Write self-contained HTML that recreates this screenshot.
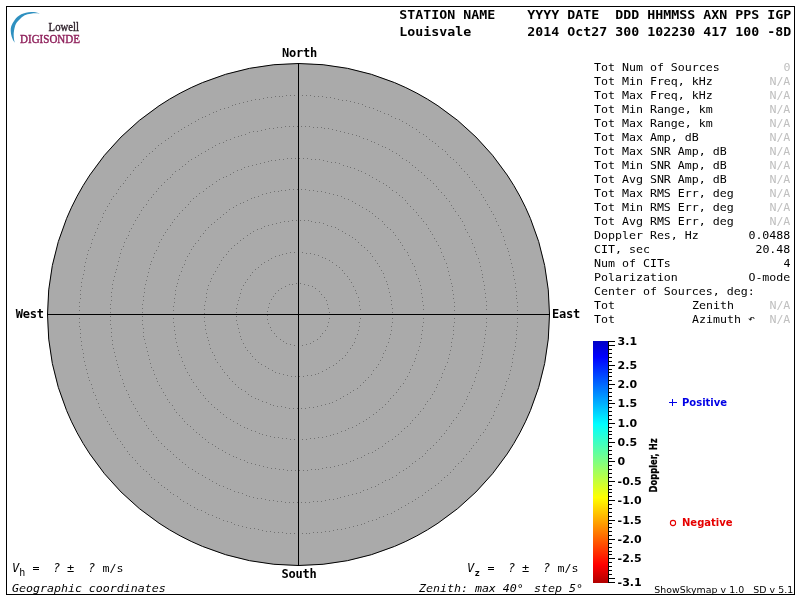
<!DOCTYPE html>
<html lang="en"><head><meta charset="utf-8"><title>ShowSkymap - Louisvale</title>
<style>
html,body{margin:0;padding:0;background:#fff;width:800px;height:600px;overflow:hidden}
svg{display:block;position:absolute;left:0;top:0}
text{white-space:pre}
.m12{font-family:"DejaVu Sans Mono", "Liberation Mono", monospace;font-size:12px;letter-spacing:-0.2246px}
.m11{font-family:"DejaVu Sans Mono", "Liberation Mono", monospace;font-size:11px;letter-spacing:0}
.m9{font-family:"DejaVu Sans Mono", "Liberation Mono", monospace;font-size:9px;font-weight:bold;letter-spacing:0}
.m10{font-family:"DejaVu Sans Mono", "Liberation Mono", monospace;font-size:10px;letter-spacing:0}
.b12{font-family:"DejaVu Sans Mono", "Liberation Mono", monospace;font-size:12px;font-weight:bold;letter-spacing:-0.2246px}
.b13{font-family:"DejaVu Sans Mono", "Liberation Mono", monospace;font-size:13px;font-weight:bold;letter-spacing:0}
.i{font-style:oblique}
.g{fill:#c0c0c0}
.sb{font-family:"DejaVu Sans", "Liberation Sans", sans-serif;font-weight:bold;font-size:11px}
.ss{font-family:"DejaVu Sans", "Liberation Sans", sans-serif;font-size:9.4px;letter-spacing:0.06px}
.sb10{font-family:"DejaVu Sans", "Liberation Sans", sans-serif;font-weight:bold;font-size:10px}
.lg{font-family:"Liberation Serif", "DejaVu Serif", serif}
</style></head><body>
<svg width="800" height="600" viewBox="0 0 800 600">
<defs><linearGradient id="cb" x1="0" y1="0" x2="0" y2="1">
<stop offset="0.000" stop-color="#0000c4"/>
<stop offset="0.066" stop-color="#0000ff"/>
<stop offset="0.344" stop-color="#00ffff"/>
<stop offset="0.500" stop-color="#80ff80"/>
<stop offset="0.647" stop-color="#ffff00"/>
<stop offset="0.925" stop-color="#ff0000"/>
<stop offset="1.000" stop-color="#b00000"/>
</linearGradient></defs>
<rect x="0" y="0" width="800" height="600" fill="#fff"/>
<circle cx="298.5" cy="314.5" r="251" fill="#aaaaaa" stroke="#000" stroke-width="1"/>
<path fill="#727272" shape-rendering="crispEdges" d="M329 314h1v1h-1zM329 318h1v1h-1zM328 322h1v1h-1zM327 326h1v1h-1zM325 330h1v1h-1zM322 333h1v1h-1zM320 336h1v1h-1zM317 339h1v1h-1zM313 341h1v1h-1zM310 343h1v1h-1zM306 344h1v1h-1zM302 345h1v1h-1zM298 345h1v1h-1zM294 345h1v1h-1zM290 344h1v1h-1zM286 343h1v1h-1zM283 341h1v1h-1zM280 339h1v1h-1zM276 336h1v1h-1zM274 333h1v1h-1zM271 330h1v1h-1zM270 327h1v1h-1zM268 323h1v1h-1zM267 319h1v1h-1zM267 315h1v1h-1zM267 311h1v1h-1zM268 307h1v1h-1zM269 303h1v1h-1zM271 299h1v1h-1zM273 296h1v1h-1zM275 293h1v1h-1zM278 290h1v1h-1zM281 288h1v1h-1zM285 286h1v1h-1zM289 284h1v1h-1zM292 284h1v1h-1zM296 283h1v1h-1zM300 283h1v1h-1zM304 284h1v1h-1zM308 285h1v1h-1zM312 286h1v1h-1zM315 288h1v1h-1zM319 291h1v1h-1zM321 294h1v1h-1zM324 297h1v1h-1zM326 300h1v1h-1zM327 304h1v1h-1zM328 308h1v1h-1zM329 312h1v1h-1zM360 314h1v1h-1zM360 318h1v1h-1zM359 322h1v1h-1zM359 326h1v1h-1zM358 330h1v1h-1zM357 334h1v1h-1zM355 338h1v1h-1zM354 342h1v1h-1zM352 345h1v1h-1zM350 348h1v1h-1zM347 352h1v1h-1zM345 355h1v1h-1zM342 358h1v1h-1zM339 360h1v1h-1zM336 363h1v1h-1zM333 365h1v1h-1zM329 367h1v1h-1zM326 369h1v1h-1zM322 371h1v1h-1zM318 373h1v1h-1zM315 374h1v1h-1zM311 375h1v1h-1zM307 375h1v1h-1zM303 376h1v1h-1zM299 376h1v1h-1zM295 376h1v1h-1zM291 376h1v1h-1zM287 375h1v1h-1zM283 374h1v1h-1zM279 373h1v1h-1zM275 372h1v1h-1zM272 370h1v1h-1zM268 368h1v1h-1zM265 366h1v1h-1zM261 364h1v1h-1zM258 362h1v1h-1zM255 359h1v1h-1zM252 356h1v1h-1zM250 353h1v1h-1zM247 350h1v1h-1zM245 347h1v1h-1zM243 343h1v1h-1zM241 339h1v1h-1zM240 336h1v1h-1zM239 332h1v1h-1zM238 328h1v1h-1zM237 324h1v1h-1zM236 320h1v1h-1zM236 316h1v1h-1zM236 312h1v1h-1zM236 308h1v1h-1zM237 304h1v1h-1zM238 300h1v1h-1zM239 297h1v1h-1zM240 293h1v1h-1zM241 289h1v1h-1zM243 285h1v1h-1zM245 282h1v1h-1zM247 279h1v1h-1zM250 275h1v1h-1zM252 272h1v1h-1zM255 269h1v1h-1zM258 267h1v1h-1zM261 264h1v1h-1zM264 262h1v1h-1zM268 260h1v1h-1zM271 258h1v1h-1zM275 256h1v1h-1zM279 255h1v1h-1zM282 254h1v1h-1zM286 253h1v1h-1zM290 252h1v1h-1zM294 252h1v1h-1zM298 252h1v1h-1zM302 252h1v1h-1zM306 253h1v1h-1zM310 253h1v1h-1zM314 254h1v1h-1zM318 255h1v1h-1zM322 257h1v1h-1zM325 258h1v1h-1zM329 260h1v1h-1zM332 262h1v1h-1zM336 265h1v1h-1zM339 267h1v1h-1zM342 270h1v1h-1zM344 273h1v1h-1zM347 276h1v1h-1zM349 279h1v1h-1zM351 282h1v1h-1zM353 286h1v1h-1zM355 290h1v1h-1zM356 293h1v1h-1zM358 297h1v1h-1zM359 301h1v1h-1zM359 305h1v1h-1zM360 309h1v1h-1zM392 314h1v1h-1zM392 318h1v1h-1zM392 322h1v1h-1zM391 326h1v1h-1zM391 330h1v1h-1zM390 334h1v1h-1zM389 338h1v1h-1zM388 342h1v1h-1zM386 346h1v1h-1zM385 350h1v1h-1zM383 353h1v1h-1zM382 357h1v1h-1zM380 360h1v1h-1zM378 364h1v1h-1zM376 367h1v1h-1zM373 370h1v1h-1zM371 374h1v1h-1zM368 377h1v1h-1zM365 380h1v1h-1zM363 382h1v1h-1zM360 385h1v1h-1zM357 388h1v1h-1zM353 390h1v1h-1zM350 392h1v1h-1zM347 394h1v1h-1zM343 396h1v1h-1zM340 398h1v1h-1zM336 400h1v1h-1zM332 402h1v1h-1zM329 403h1v1h-1zM325 404h1v1h-1zM321 405h1v1h-1zM317 406h1v1h-1zM313 407h1v1h-1zM309 407h1v1h-1zM305 408h1v1h-1zM301 408h1v1h-1zM297 408h1v1h-1zM293 408h1v1h-1zM289 408h1v1h-1zM285 407h1v1h-1zM281 406h1v1h-1zM277 406h1v1h-1zM273 405h1v1h-1zM270 404h1v1h-1zM266 402h1v1h-1zM262 401h1v1h-1zM258 399h1v1h-1zM255 398h1v1h-1zM251 396h1v1h-1zM248 394h1v1h-1zM245 391h1v1h-1zM241 389h1v1h-1zM238 387h1v1h-1zM235 384h1v1h-1zM232 381h1v1h-1zM229 378h1v1h-1zM227 375h1v1h-1zM224 372h1v1h-1zM222 369h1v1h-1zM220 366h1v1h-1zM217 362h1v1h-1zM215 359h1v1h-1zM214 355h1v1h-1zM212 352h1v1h-1zM210 348h1v1h-1zM209 344h1v1h-1zM208 340h1v1h-1zM207 337h1v1h-1zM206 333h1v1h-1zM205 329h1v1h-1zM205 325h1v1h-1zM204 321h1v1h-1zM204 317h1v1h-1zM204 313h1v1h-1zM204 309h1v1h-1zM204 305h1v1h-1zM205 301h1v1h-1zM206 297h1v1h-1zM206 293h1v1h-1zM207 289h1v1h-1zM208 285h1v1h-1zM210 281h1v1h-1zM211 278h1v1h-1zM213 274h1v1h-1zM215 271h1v1h-1zM217 267h1v1h-1zM219 264h1v1h-1zM221 260h1v1h-1zM223 257h1v1h-1zM226 254h1v1h-1zM228 251h1v1h-1zM231 248h1v1h-1zM234 245h1v1h-1zM237 243h1v1h-1zM240 240h1v1h-1zM243 238h1v1h-1zM247 235h1v1h-1zM250 233h1v1h-1zM253 231h1v1h-1zM257 229h1v1h-1zM261 228h1v1h-1zM264 226h1v1h-1zM268 225h1v1h-1zM272 224h1v1h-1zM276 223h1v1h-1zM280 222h1v1h-1zM284 221h1v1h-1zM288 221h1v1h-1zM292 220h1v1h-1zM296 220h1v1h-1zM300 220h1v1h-1zM304 220h1v1h-1zM308 220h1v1h-1zM311 221h1v1h-1zM315 222h1v1h-1zM319 222h1v1h-1zM323 223h1v1h-1zM327 225h1v1h-1zM331 226h1v1h-1zM335 227h1v1h-1zM338 229h1v1h-1zM342 231h1v1h-1zM345 233h1v1h-1zM349 235h1v1h-1zM352 237h1v1h-1zM355 239h1v1h-1zM358 242h1v1h-1zM361 245h1v1h-1zM364 247h1v1h-1zM367 250h1v1h-1zM370 253h1v1h-1zM372 256h1v1h-1zM375 260h1v1h-1zM377 263h1v1h-1zM379 266h1v1h-1zM381 270h1v1h-1zM383 273h1v1h-1zM384 277h1v1h-1zM386 281h1v1h-1zM387 284h1v1h-1zM388 288h1v1h-1zM389 292h1v1h-1zM390 296h1v1h-1zM391 300h1v1h-1zM391 304h1v1h-1zM392 308h1v1h-1zM392 312h1v1h-1zM423 314h1v1h-1zM423 318h1v1h-1zM423 322h1v1h-1zM422 326h1v1h-1zM422 330h1v1h-1zM421 334h1v1h-1zM421 338h1v1h-1zM420 342h1v1h-1zM419 346h1v1h-1zM418 350h1v1h-1zM416 354h1v1h-1zM415 358h1v1h-1zM414 361h1v1h-1zM412 365h1v1h-1zM410 369h1v1h-1zM409 372h1v1h-1zM407 376h1v1h-1zM405 379h1v1h-1zM403 383h1v1h-1zM400 386h1v1h-1zM398 389h1v1h-1zM396 392h1v1h-1zM393 395h1v1h-1zM390 398h1v1h-1zM388 401h1v1h-1zM385 404h1v1h-1zM382 407h1v1h-1zM379 409h1v1h-1zM376 412h1v1h-1zM373 414h1v1h-1zM369 417h1v1h-1zM366 419h1v1h-1zM363 421h1v1h-1zM359 423h1v1h-1zM356 425h1v1h-1zM352 427h1v1h-1zM348 428h1v1h-1zM345 430h1v1h-1zM341 431h1v1h-1zM337 433h1v1h-1zM333 434h1v1h-1zM330 435h1v1h-1zM326 436h1v1h-1zM322 437h1v1h-1zM318 437h1v1h-1zM314 438h1v1h-1zM310 438h1v1h-1zM306 439h1v1h-1zM302 439h1v1h-1zM298 439h1v1h-1zM294 439h1v1h-1zM290 439h1v1h-1zM286 438h1v1h-1zM282 438h1v1h-1zM278 437h1v1h-1zM274 437h1v1h-1zM270 436h1v1h-1zM266 435h1v1h-1zM262 434h1v1h-1zM259 433h1v1h-1zM255 431h1v1h-1zM251 430h1v1h-1zM247 428h1v1h-1zM244 427h1v1h-1zM240 425h1v1h-1zM237 423h1v1h-1zM233 421h1v1h-1zM230 419h1v1h-1zM226 417h1v1h-1zM223 414h1v1h-1zM220 412h1v1h-1zM217 409h1v1h-1zM214 407h1v1h-1zM211 404h1v1h-1zM208 401h1v1h-1zM205 398h1v1h-1zM203 395h1v1h-1zM200 392h1v1h-1zM198 389h1v1h-1zM196 386h1v1h-1zM193 382h1v1h-1zM191 379h1v1h-1zM189 375h1v1h-1zM187 372h1v1h-1zM185 368h1v1h-1zM184 365h1v1h-1zM182 361h1v1h-1zM181 357h1v1h-1zM179 354h1v1h-1zM178 350h1v1h-1zM177 346h1v1h-1zM176 342h1v1h-1zM175 338h1v1h-1zM175 334h1v1h-1zM174 330h1v1h-1zM174 326h1v1h-1zM173 322h1v1h-1zM173 318h1v1h-1zM173 314h1v1h-1zM173 310h1v1h-1zM173 306h1v1h-1zM174 302h1v1h-1zM174 298h1v1h-1zM175 294h1v1h-1zM175 290h1v1h-1zM176 286h1v1h-1zM177 283h1v1h-1zM178 279h1v1h-1zM179 275h1v1h-1zM181 271h1v1h-1zM182 267h1v1h-1zM184 264h1v1h-1zM185 260h1v1h-1zM187 256h1v1h-1zM189 253h1v1h-1zM191 249h1v1h-1zM193 246h1v1h-1zM195 243h1v1h-1zM198 240h1v1h-1zM200 236h1v1h-1zM203 233h1v1h-1zM205 230h1v1h-1zM208 227h1v1h-1zM211 224h1v1h-1zM214 222h1v1h-1zM217 219h1v1h-1zM220 217h1v1h-1zM223 214h1v1h-1zM226 212h1v1h-1zM229 209h1v1h-1zM233 207h1v1h-1zM236 205h1v1h-1zM240 203h1v1h-1zM243 202h1v1h-1zM247 200h1v1h-1zM251 198h1v1h-1zM254 197h1v1h-1zM258 196h1v1h-1zM262 194h1v1h-1zM266 193h1v1h-1zM270 192h1v1h-1zM274 191h1v1h-1zM278 191h1v1h-1zM281 190h1v1h-1zM285 190h1v1h-1zM289 189h1v1h-1zM293 189h1v1h-1zM297 189h1v1h-1zM301 189h1v1h-1zM305 189h1v1h-1zM309 190h1v1h-1zM313 190h1v1h-1zM317 191h1v1h-1zM321 191h1v1h-1zM325 192h1v1h-1zM329 193h1v1h-1zM333 194h1v1h-1zM337 195h1v1h-1zM341 196h1v1h-1zM344 198h1v1h-1zM348 199h1v1h-1zM352 201h1v1h-1zM355 203h1v1h-1zM359 205h1v1h-1zM362 207h1v1h-1zM366 209h1v1h-1zM369 211h1v1h-1zM372 213h1v1h-1zM375 216h1v1h-1zM378 218h1v1h-1zM382 221h1v1h-1zM384 224h1v1h-1zM387 227h1v1h-1zM390 229h1v1h-1zM393 232h1v1h-1zM395 235h1v1h-1zM398 239h1v1h-1zM400 242h1v1h-1zM402 245h1v1h-1zM404 249h1v1h-1zM407 252h1v1h-1zM408 255h1v1h-1zM410 259h1v1h-1zM412 263h1v1h-1zM414 266h1v1h-1zM415 270h1v1h-1zM416 274h1v1h-1zM418 278h1v1h-1zM419 281h1v1h-1zM420 285h1v1h-1zM421 289h1v1h-1zM421 293h1v1h-1zM422 297h1v1h-1zM422 301h1v1h-1zM423 305h1v1h-1zM423 309h1v1h-1zM454 314h1v1h-1zM454 318h1v1h-1zM454 322h1v1h-1zM453 326h1v1h-1zM453 330h1v1h-1zM453 334h1v1h-1zM452 338h1v1h-1zM451 342h1v1h-1zM451 346h1v1h-1zM450 350h1v1h-1zM449 354h1v1h-1zM448 358h1v1h-1zM447 362h1v1h-1zM445 366h1v1h-1zM444 369h1v1h-1zM442 373h1v1h-1zM441 377h1v1h-1zM439 380h1v1h-1zM437 384h1v1h-1zM436 387h1v1h-1zM434 391h1v1h-1zM432 394h1v1h-1zM430 398h1v1h-1zM427 401h1v1h-1zM425 404h1v1h-1zM423 408h1v1h-1zM420 411h1v1h-1zM418 414h1v1h-1zM415 417h1v1h-1zM412 420h1v1h-1zM410 423h1v1h-1zM407 426h1v1h-1zM404 428h1v1h-1zM401 431h1v1h-1zM398 434h1v1h-1zM395 436h1v1h-1zM392 439h1v1h-1zM388 441h1v1h-1zM385 443h1v1h-1zM382 446h1v1h-1zM378 448h1v1h-1zM375 450h1v1h-1zM372 452h1v1h-1zM368 453h1v1h-1zM364 455h1v1h-1zM361 457h1v1h-1zM357 458h1v1h-1zM353 460h1v1h-1zM350 461h1v1h-1zM346 463h1v1h-1zM342 464h1v1h-1zM338 465h1v1h-1zM334 466h1v1h-1zM330 467h1v1h-1zM326 467h1v1h-1zM322 468h1v1h-1zM318 469h1v1h-1zM315 469h1v1h-1zM311 469h1v1h-1zM307 470h1v1h-1zM303 470h1v1h-1zM299 470h1v1h-1zM295 470h1v1h-1zM291 470h1v1h-1zM287 470h1v1h-1zM283 469h1v1h-1zM279 469h1v1h-1zM275 468h1v1h-1zM271 468h1v1h-1zM267 467h1v1h-1zM263 466h1v1h-1zM259 465h1v1h-1zM255 464h1v1h-1zM251 463h1v1h-1zM247 462h1v1h-1zM244 460h1v1h-1zM240 459h1v1h-1zM236 457h1v1h-1zM233 456h1v1h-1zM229 454h1v1h-1zM225 452h1v1h-1zM222 450h1v1h-1zM218 448h1v1h-1zM215 446h1v1h-1zM212 444h1v1h-1zM208 442h1v1h-1zM205 439h1v1h-1zM202 437h1v1h-1zM199 434h1v1h-1zM196 432h1v1h-1zM193 429h1v1h-1zM190 426h1v1h-1zM187 424h1v1h-1zM184 421h1v1h-1zM182 418h1v1h-1zM179 415h1v1h-1zM176 412h1v1h-1zM174 409h1v1h-1zM172 405h1v1h-1zM169 402h1v1h-1zM167 399h1v1h-1zM165 395h1v1h-1zM163 392h1v1h-1zM161 388h1v1h-1zM159 385h1v1h-1zM157 381h1v1h-1zM156 378h1v1h-1zM154 374h1v1h-1zM153 370h1v1h-1zM151 367h1v1h-1zM150 363h1v1h-1zM149 359h1v1h-1zM148 355h1v1h-1zM147 351h1v1h-1zM146 347h1v1h-1zM145 343h1v1h-1zM144 339h1v1h-1zM143 336h1v1h-1zM143 332h1v1h-1zM143 328h1v1h-1zM142 324h1v1h-1zM142 320h1v1h-1zM142 316h1v1h-1zM142 312h1v1h-1zM142 308h1v1h-1zM142 304h1v1h-1zM143 300h1v1h-1zM143 296h1v1h-1zM144 292h1v1h-1zM144 288h1v1h-1zM145 284h1v1h-1zM146 280h1v1h-1zM147 276h1v1h-1zM148 272h1v1h-1zM149 268h1v1h-1zM150 264h1v1h-1zM151 261h1v1h-1zM153 257h1v1h-1zM154 253h1v1h-1zM156 250h1v1h-1zM158 246h1v1h-1zM159 242h1v1h-1zM161 239h1v1h-1zM163 235h1v1h-1zM165 232h1v1h-1zM167 229h1v1h-1zM170 225h1v1h-1zM172 222h1v1h-1zM174 219h1v1h-1zM177 216h1v1h-1zM179 213h1v1h-1zM182 210h1v1h-1zM185 207h1v1h-1zM188 204h1v1h-1zM190 201h1v1h-1zM193 198h1v1h-1zM196 196h1v1h-1zM199 193h1v1h-1zM203 191h1v1h-1zM206 188h1v1h-1zM209 186h1v1h-1zM212 184h1v1h-1zM216 181h1v1h-1zM219 179h1v1h-1zM223 177h1v1h-1zM226 176h1v1h-1zM230 174h1v1h-1zM233 172h1v1h-1zM237 170h1v1h-1zM241 169h1v1h-1zM244 167h1v1h-1zM248 166h1v1h-1zM252 165h1v1h-1zM256 164h1v1h-1zM260 163h1v1h-1zM264 162h1v1h-1zM268 161h1v1h-1zM271 160h1v1h-1zM275 160h1v1h-1zM279 159h1v1h-1zM283 159h1v1h-1zM287 158h1v1h-1zM291 158h1v1h-1zM295 158h1v1h-1zM299 158h1v1h-1zM303 158h1v1h-1zM307 158h1v1h-1zM311 159h1v1h-1zM315 159h1v1h-1zM319 159h1v1h-1zM323 160h1v1h-1zM327 161h1v1h-1zM331 162h1v1h-1zM335 162h1v1h-1zM339 163h1v1h-1zM343 165h1v1h-1zM347 166h1v1h-1zM350 167h1v1h-1zM354 168h1v1h-1zM358 170h1v1h-1zM361 171h1v1h-1zM365 173h1v1h-1zM369 175h1v1h-1zM372 177h1v1h-1zM376 179h1v1h-1zM379 181h1v1h-1zM383 183h1v1h-1zM386 185h1v1h-1zM389 187h1v1h-1zM392 190h1v1h-1zM396 192h1v1h-1zM399 195h1v1h-1zM402 197h1v1h-1zM405 200h1v1h-1zM407 203h1v1h-1zM410 206h1v1h-1zM413 209h1v1h-1zM416 212h1v1h-1zM418 215h1v1h-1zM421 218h1v1h-1zM423 221h1v1h-1zM426 224h1v1h-1zM428 228h1v1h-1zM430 231h1v1h-1zM432 234h1v1h-1zM434 238h1v1h-1zM436 241h1v1h-1zM438 245h1v1h-1zM440 248h1v1h-1zM441 252h1v1h-1zM443 256h1v1h-1zM444 259h1v1h-1zM446 263h1v1h-1zM447 267h1v1h-1zM448 271h1v1h-1zM449 275h1v1h-1zM450 279h1v1h-1zM451 283h1v1h-1zM452 286h1v1h-1zM452 290h1v1h-1zM453 294h1v1h-1zM453 298h1v1h-1zM454 302h1v1h-1zM454 306h1v1h-1zM454 310h1v1h-1zM486 314h1v1h-1zM486 318h1v1h-1zM486 322h1v1h-1zM486 326h1v1h-1zM485 330h1v1h-1zM485 334h1v1h-1zM484 338h1v1h-1zM484 342h1v1h-1zM483 346h1v1h-1zM482 350h1v1h-1zM482 354h1v1h-1zM481 358h1v1h-1zM480 362h1v1h-1zM479 366h1v1h-1zM478 370h1v1h-1zM476 373h1v1h-1zM475 377h1v1h-1zM474 381h1v1h-1zM472 385h1v1h-1zM471 388h1v1h-1zM469 392h1v1h-1zM467 396h1v1h-1zM466 399h1v1h-1zM464 403h1v1h-1zM462 406h1v1h-1zM460 410h1v1h-1zM458 413h1v1h-1zM456 417h1v1h-1zM453 420h1v1h-1zM451 423h1v1h-1zM449 426h1v1h-1zM446 430h1v1h-1zM444 433h1v1h-1zM441 436h1v1h-1zM439 439h1v1h-1zM436 442h1v1h-1zM433 445h1v1h-1zM430 448h1v1h-1zM427 450h1v1h-1zM425 453h1v1h-1zM422 456h1v1h-1zM419 458h1v1h-1zM415 461h1v1h-1zM412 463h1v1h-1zM409 466h1v1h-1zM406 468h1v1h-1zM403 470h1v1h-1zM399 472h1v1h-1zM396 475h1v1h-1zM392 477h1v1h-1zM389 479h1v1h-1zM385 480h1v1h-1zM382 482h1v1h-1zM378 484h1v1h-1zM375 486h1v1h-1zM371 487h1v1h-1zM367 489h1v1h-1zM363 490h1v1h-1zM360 492h1v1h-1zM356 493h1v1h-1zM352 494h1v1h-1zM348 495h1v1h-1zM344 496h1v1h-1zM340 497h1v1h-1zM337 498h1v1h-1zM333 499h1v1h-1zM329 499h1v1h-1zM325 500h1v1h-1zM321 501h1v1h-1zM317 501h1v1h-1zM313 501h1v1h-1zM309 502h1v1h-1zM305 502h1v1h-1zM301 502h1v1h-1zM297 502h1v1h-1zM293 502h1v1h-1zM289 502h1v1h-1zM285 502h1v1h-1zM281 501h1v1h-1zM277 501h1v1h-1zM273 500h1v1h-1zM269 500h1v1h-1zM265 499h1v1h-1zM261 498h1v1h-1zM257 498h1v1h-1zM253 497h1v1h-1zM249 496h1v1h-1zM246 495h1v1h-1zM242 493h1v1h-1zM238 492h1v1h-1zM234 491h1v1h-1zM230 489h1v1h-1zM227 488h1v1h-1zM223 486h1v1h-1zM219 485h1v1h-1zM216 483h1v1h-1zM212 481h1v1h-1zM209 479h1v1h-1zM205 477h1v1h-1zM202 475h1v1h-1zM198 473h1v1h-1zM195 471h1v1h-1zM192 469h1v1h-1zM188 467h1v1h-1zM185 464h1v1h-1zM182 462h1v1h-1zM179 459h1v1h-1zM176 457h1v1h-1zM173 454h1v1h-1zM170 451h1v1h-1zM167 449h1v1h-1zM164 446h1v1h-1zM161 443h1v1h-1zM158 440h1v1h-1zM156 437h1v1h-1zM153 434h1v1h-1zM151 431h1v1h-1zM148 428h1v1h-1zM146 425h1v1h-1zM144 421h1v1h-1zM141 418h1v1h-1zM139 415h1v1h-1zM137 411h1v1h-1zM135 408h1v1h-1zM133 404h1v1h-1zM131 401h1v1h-1zM129 397h1v1h-1zM128 394h1v1h-1zM126 390h1v1h-1zM124 386h1v1h-1zM123 383h1v1h-1zM122 379h1v1h-1zM120 375h1v1h-1zM119 371h1v1h-1zM118 367h1v1h-1zM117 364h1v1h-1zM116 360h1v1h-1zM115 356h1v1h-1zM114 352h1v1h-1zM113 348h1v1h-1zM112 344h1v1h-1zM112 340h1v1h-1zM111 336h1v1h-1zM111 332h1v1h-1zM111 328h1v1h-1zM110 324h1v1h-1zM110 320h1v1h-1zM110 316h1v1h-1zM110 312h1v1h-1zM110 308h1v1h-1zM110 304h1v1h-1zM111 300h1v1h-1zM111 296h1v1h-1zM111 292h1v1h-1zM112 288h1v1h-1zM112 284h1v1h-1zM113 280h1v1h-1zM114 276h1v1h-1zM115 272h1v1h-1zM116 269h1v1h-1zM117 265h1v1h-1zM118 261h1v1h-1zM119 257h1v1h-1zM120 253h1v1h-1zM121 249h1v1h-1zM123 246h1v1h-1zM124 242h1v1h-1zM126 238h1v1h-1zM128 235h1v1h-1zM129 231h1v1h-1zM131 228h1v1h-1zM133 224h1v1h-1zM135 220h1v1h-1zM137 217h1v1h-1zM139 214h1v1h-1zM141 210h1v1h-1zM143 207h1v1h-1zM146 204h1v1h-1zM148 200h1v1h-1zM151 197h1v1h-1zM153 194h1v1h-1zM156 191h1v1h-1zM158 188h1v1h-1zM161 185h1v1h-1zM164 182h1v1h-1zM167 179h1v1h-1zM170 177h1v1h-1zM172 174h1v1h-1zM175 171h1v1h-1zM179 169h1v1h-1zM182 166h1v1h-1zM185 164h1v1h-1zM188 161h1v1h-1zM191 159h1v1h-1zM195 157h1v1h-1zM198 155h1v1h-1zM201 153h1v1h-1zM205 151h1v1h-1zM208 149h1v1h-1zM212 147h1v1h-1zM215 145h1v1h-1zM219 143h1v1h-1zM223 142h1v1h-1zM226 140h1v1h-1zM230 139h1v1h-1zM234 137h1v1h-1zM238 136h1v1h-1zM241 135h1v1h-1zM245 134h1v1h-1zM249 132h1v1h-1zM253 131h1v1h-1zM257 131h1v1h-1zM261 130h1v1h-1zM265 129h1v1h-1zM269 128h1v1h-1zM273 128h1v1h-1zM277 127h1v1h-1zM281 127h1v1h-1zM285 126h1v1h-1zM289 126h1v1h-1zM293 126h1v1h-1zM297 126h1v1h-1zM301 126h1v1h-1zM305 126h1v1h-1zM309 126h1v1h-1zM313 127h1v1h-1zM317 127h1v1h-1zM321 127h1v1h-1zM324 128h1v1h-1zM328 128h1v1h-1zM332 129h1v1h-1zM336 130h1v1h-1zM340 131h1v1h-1zM344 132h1v1h-1zM348 133h1v1h-1zM352 134h1v1h-1zM356 135h1v1h-1zM359 136h1v1h-1zM363 138h1v1h-1zM367 139h1v1h-1zM371 141h1v1h-1zM374 142h1v1h-1zM378 144h1v1h-1zM382 146h1v1h-1zM385 147h1v1h-1zM389 149h1v1h-1zM392 151h1v1h-1zM396 153h1v1h-1zM399 155h1v1h-1zM402 158h1v1h-1zM406 160h1v1h-1zM409 162h1v1h-1zM412 165h1v1h-1zM415 167h1v1h-1zM418 170h1v1h-1zM421 172h1v1h-1zM424 175h1v1h-1zM427 178h1v1h-1zM430 180h1v1h-1zM433 183h1v1h-1zM436 186h1v1h-1zM438 189h1v1h-1zM441 192h1v1h-1zM444 195h1v1h-1zM446 198h1v1h-1zM449 201h1v1h-1zM451 205h1v1h-1zM453 208h1v1h-1zM455 211h1v1h-1zM458 215h1v1h-1zM460 218h1v1h-1zM462 221h1v1h-1zM464 225h1v1h-1zM465 229h1v1h-1zM467 232h1v1h-1zM469 236h1v1h-1zM471 239h1v1h-1zM472 243h1v1h-1zM474 247h1v1h-1zM475 251h1v1h-1zM476 254h1v1h-1zM478 258h1v1h-1zM479 262h1v1h-1zM480 266h1v1h-1zM481 270h1v1h-1zM482 274h1v1h-1zM482 277h1v1h-1zM483 281h1v1h-1zM484 285h1v1h-1zM484 289h1v1h-1zM485 293h1v1h-1zM485 297h1v1h-1zM486 301h1v1h-1zM486 305h1v1h-1zM486 309h1v1h-1zM517 314h1v1h-1zM517 318h1v1h-1zM517 322h1v1h-1zM517 326h1v1h-1zM516 330h1v1h-1zM516 334h1v1h-1zM516 338h1v1h-1zM515 342h1v1h-1zM515 346h1v1h-1zM514 350h1v1h-1zM513 354h1v1h-1zM512 358h1v1h-1zM512 362h1v1h-1zM511 366h1v1h-1zM510 370h1v1h-1zM509 374h1v1h-1zM508 378h1v1h-1zM506 381h1v1h-1zM505 385h1v1h-1zM504 389h1v1h-1zM502 393h1v1h-1zM501 396h1v1h-1zM499 400h1v1h-1zM498 404h1v1h-1zM496 407h1v1h-1zM494 411h1v1h-1zM493 415h1v1h-1zM491 418h1v1h-1zM489 422h1v1h-1zM487 425h1v1h-1zM485 429h1v1h-1zM483 432h1v1h-1zM480 435h1v1h-1zM478 439h1v1h-1zM476 442h1v1h-1zM473 445h1v1h-1zM471 448h1v1h-1zM469 451h1v1h-1zM466 454h1v1h-1zM463 458h1v1h-1zM461 461h1v1h-1zM458 463h1v1h-1zM455 466h1v1h-1zM453 469h1v1h-1zM450 472h1v1h-1zM447 475h1v1h-1zM444 477h1v1h-1zM441 480h1v1h-1zM438 483h1v1h-1zM435 485h1v1h-1zM431 488h1v1h-1zM428 490h1v1h-1zM425 492h1v1h-1zM422 495h1v1h-1zM418 497h1v1h-1zM415 499h1v1h-1zM412 501h1v1h-1zM408 503h1v1h-1zM405 505h1v1h-1zM401 507h1v1h-1zM398 509h1v1h-1zM394 511h1v1h-1zM391 513h1v1h-1zM387 514h1v1h-1zM383 516h1v1h-1zM379 517h1v1h-1zM376 519h1v1h-1zM372 520h1v1h-1zM368 521h1v1h-1zM364 523h1v1h-1zM361 524h1v1h-1zM357 525h1v1h-1zM353 526h1v1h-1zM349 527h1v1h-1zM345 528h1v1h-1zM341 529h1v1h-1zM337 529h1v1h-1zM333 530h1v1h-1zM329 531h1v1h-1zM325 531h1v1h-1zM321 532h1v1h-1zM317 532h1v1h-1zM313 532h1v1h-1zM309 533h1v1h-1zM306 533h1v1h-1zM302 533h1v1h-1zM298 533h1v1h-1zM294 533h1v1h-1zM290 533h1v1h-1zM286 533h1v1h-1zM282 532h1v1h-1zM278 532h1v1h-1zM274 532h1v1h-1zM270 531h1v1h-1zM266 531h1v1h-1zM262 530h1v1h-1zM258 529h1v1h-1zM254 528h1v1h-1zM250 528h1v1h-1zM246 527h1v1h-1zM242 526h1v1h-1zM238 525h1v1h-1zM234 524h1v1h-1zM231 522h1v1h-1zM227 521h1v1h-1zM223 520h1v1h-1zM219 518h1v1h-1zM216 517h1v1h-1zM212 515h1v1h-1zM208 514h1v1h-1zM205 512h1v1h-1zM201 510h1v1h-1zM197 509h1v1h-1zM194 507h1v1h-1zM190 505h1v1h-1zM187 503h1v1h-1zM183 501h1v1h-1zM180 499h1v1h-1zM177 496h1v1h-1zM173 494h1v1h-1zM170 492h1v1h-1zM167 489h1v1h-1zM164 487h1v1h-1zM161 485h1v1h-1zM158 482h1v1h-1zM154 479h1v1h-1zM151 477h1v1h-1zM149 474h1v1h-1zM146 471h1v1h-1zM143 469h1v1h-1zM140 466h1v1h-1zM137 463h1v1h-1zM135 460h1v1h-1zM132 457h1v1h-1zM129 454h1v1h-1zM127 451h1v1h-1zM124 447h1v1h-1zM122 444h1v1h-1zM120 441h1v1h-1zM117 438h1v1h-1zM115 434h1v1h-1zM113 431h1v1h-1zM111 428h1v1h-1zM109 424h1v1h-1zM107 421h1v1h-1zM105 417h1v1h-1zM103 414h1v1h-1zM101 410h1v1h-1zM99 407h1v1h-1zM98 403h1v1h-1zM96 399h1v1h-1zM95 395h1v1h-1zM93 392h1v1h-1zM92 388h1v1h-1zM91 384h1v1h-1zM89 380h1v1h-1zM88 377h1v1h-1zM87 373h1v1h-1zM86 369h1v1h-1zM85 365h1v1h-1zM84 361h1v1h-1zM83 357h1v1h-1zM83 353h1v1h-1zM82 349h1v1h-1zM81 345h1v1h-1zM81 341h1v1h-1zM80 337h1v1h-1zM80 333h1v1h-1zM80 329h1v1h-1zM79 326h1v1h-1zM79 322h1v1h-1zM79 318h1v1h-1zM79 314h1v1h-1zM79 310h1v1h-1zM79 306h1v1h-1zM79 302h1v1h-1zM80 298h1v1h-1zM80 294h1v1h-1zM80 290h1v1h-1zM81 286h1v1h-1zM81 282h1v1h-1zM82 278h1v1h-1zM83 274h1v1h-1zM84 270h1v1h-1zM84 266h1v1h-1zM85 262h1v1h-1zM86 258h1v1h-1zM87 254h1v1h-1zM88 250h1v1h-1zM90 247h1v1h-1zM91 243h1v1h-1zM92 239h1v1h-1zM94 235h1v1h-1zM95 232h1v1h-1zM97 228h1v1h-1zM98 224h1v1h-1zM100 221h1v1h-1zM102 217h1v1h-1zM103 213h1v1h-1zM105 210h1v1h-1zM107 206h1v1h-1zM109 203h1v1h-1zM111 199h1v1h-1zM113 196h1v1h-1zM116 193h1v1h-1zM118 189h1v1h-1zM120 186h1v1h-1zM123 183h1v1h-1zM125 180h1v1h-1zM127 177h1v1h-1zM130 174h1v1h-1zM133 170h1v1h-1zM135 167h1v1h-1zM138 165h1v1h-1zM141 162h1v1h-1zM143 159h1v1h-1zM146 156h1v1h-1zM149 153h1v1h-1zM152 151h1v1h-1zM155 148h1v1h-1zM158 145h1v1h-1zM161 143h1v1h-1zM165 140h1v1h-1zM168 138h1v1h-1zM171 136h1v1h-1zM174 133h1v1h-1zM178 131h1v1h-1zM181 129h1v1h-1zM184 127h1v1h-1zM188 125h1v1h-1zM191 123h1v1h-1zM195 121h1v1h-1zM198 119h1v1h-1zM202 117h1v1h-1zM205 116h1v1h-1zM209 114h1v1h-1zM213 112h1v1h-1zM216 111h1v1h-1zM220 109h1v1h-1zM224 108h1v1h-1zM228 107h1v1h-1zM232 105h1v1h-1zM235 104h1v1h-1zM239 103h1v1h-1zM243 102h1v1h-1zM247 101h1v1h-1zM251 100h1v1h-1zM255 99h1v1h-1zM259 99h1v1h-1zM263 98h1v1h-1zM267 97h1v1h-1zM271 97h1v1h-1zM275 96h1v1h-1zM279 96h1v1h-1zM282 96h1v1h-1zM286 95h1v1h-1zM290 95h1v1h-1zM294 95h1v1h-1zM298 95h1v1h-1zM302 95h1v1h-1zM306 95h1v1h-1zM310 95h1v1h-1zM314 96h1v1h-1zM318 96h1v1h-1zM322 96h1v1h-1zM326 97h1v1h-1zM330 97h1v1h-1zM334 98h1v1h-1zM338 99h1v1h-1zM342 100h1v1h-1zM346 100h1v1h-1zM350 101h1v1h-1zM354 102h1v1h-1zM358 103h1v1h-1zM362 104h1v1h-1zM365 106h1v1h-1zM369 107h1v1h-1zM373 108h1v1h-1zM377 110h1v1h-1zM380 111h1v1h-1zM384 113h1v1h-1zM388 114h1v1h-1zM391 116h1v1h-1zM395 118h1v1h-1zM399 119h1v1h-1zM402 121h1v1h-1zM406 123h1v1h-1zM409 125h1v1h-1zM412 127h1v1h-1zM416 129h1v1h-1zM419 132h1v1h-1zM423 134h1v1h-1zM426 136h1v1h-1zM429 139h1v1h-1zM432 141h1v1h-1zM435 143h1v1h-1zM438 146h1v1h-1zM442 149h1v1h-1zM445 151h1v1h-1zM447 154h1v1h-1zM450 157h1v1h-1zM453 159h1v1h-1zM456 162h1v1h-1zM459 165h1v1h-1zM461 168h1v1h-1zM464 171h1v1h-1zM467 174h1v1h-1zM469 177h1v1h-1zM472 181h1v1h-1zM474 184h1v1h-1zM476 187h1v1h-1zM479 190h1v1h-1zM481 194h1v1h-1zM483 197h1v1h-1zM485 200h1v1h-1zM487 204h1v1h-1zM489 207h1v1h-1zM491 211h1v1h-1zM493 214h1v1h-1zM495 218h1v1h-1zM496 221h1v1h-1zM498 225h1v1h-1zM500 229h1v1h-1zM501 232h1v1h-1zM503 236h1v1h-1zM504 240h1v1h-1zM505 244h1v1h-1zM507 248h1v1h-1zM508 251h1v1h-1zM509 255h1v1h-1zM510 259h1v1h-1zM511 263h1v1h-1zM512 267h1v1h-1zM513 271h1v1h-1zM513 275h1v1h-1zM514 279h1v1h-1zM515 283h1v1h-1zM515 287h1v1h-1zM516 291h1v1h-1zM516 295h1v1h-1zM516 298h1v1h-1zM517 302h1v1h-1zM517 306h1v1h-1zM517 310h1v1h-1z"/>
<rect x="298" y="63" width="1" height="503" fill="#000"/>
<rect x="47" y="314" width="503" height="1" fill="#000"/>
<rect x="6.5" y="6.5" width="788" height="588" fill="none" stroke="#000" stroke-width="1" shape-rendering="crispEdges"/>
<path d="M39.3 13.3 C36 12 33.5 11.8 31.3 11.9 C27.5 12 24 12.9 21.3 14.3 C18.5 15.8 16.3 17.8 14.7 20 C13.2 22 12 24 11.3 26 C10.8 27.6 10.6 29.2 10.7 30.7 C10.8 32.8 11.1 34.8 11.7 36.7 C12.4 38.9 13.4 40.9 14.7 42.7 C14.1 40.5 13.8 38.3 13.7 36 C13.6 34.2 13.7 32.4 14 30.7 C14.3 28.8 14.7 27 15.3 25.3 C16.1 23.2 17.5 21.3 19.3 19.7 C20.8 18 22.6 16.5 24.7 15.3 C26.5 14.5 28.5 14 30.7 13.7 C33.5 13.3 36.5 13.2 39.3 13.5 Z" fill="#2e90c0"/>
<text class="lg" x="48.6" y="30.5" font-size="11.5" fill="#2c1e28" stroke="#2c1e28" stroke-width="0.35" textLength="30.3" lengthAdjust="spacingAndGlyphs">Lowell</text>
<text class="lg" x="20" y="42.7" font-size="11.5" fill="#8e1f5a" stroke="#8e1f5a" stroke-width="0.4" textLength="60" lengthAdjust="spacingAndGlyphs">DIGISONDE</text>
<text class="b13" transform="translate(399.3,19) scale(1.02215,1)">STATION NAME</text>
<text class="b13" transform="translate(527.3,19) scale(1.02215,1)">YYYY</text>
<text class="b13" transform="translate(567.3,19) scale(1.02215,1)">DATE</text>
<text class="b13" transform="translate(615.3,19) scale(1.02215,1)">DDD</text>
<text class="b13" transform="translate(647.3,19) scale(1.02215,1)">HHMMSS</text>
<text class="b13" transform="translate(703.3,19) scale(1.02215,1)">AXN</text>
<text class="b13" transform="translate(735.3,19) scale(1.02215,1)">PPS</text>
<text class="b13" transform="translate(767.3,19) scale(1.02215,1)">IGP</text>
<text class="b13" transform="translate(399.3,36) scale(1.02215,1)">Louisvale</text>
<text class="b13" transform="translate(527.3,36) scale(1.02215,1)">2014</text>
<text class="b13" transform="translate(567.3,36) scale(1.02215,1)">Oct27</text>
<text class="b13" transform="translate(615.3,36) scale(1.02215,1)">300</text>
<text class="b13" transform="translate(647.3,36) scale(1.02215,1)">102230</text>
<text class="b13" transform="translate(703.3,36) scale(1.02215,1)">417</text>
<text class="b13" transform="translate(735.3,36) scale(1.02215,1)">100</text>
<text class="b13" transform="translate(767.3,36) scale(1.02215,1)">-8D</text>
<text class="b12" x="282" y="57">North</text>
<text class="b12" x="281.5" y="578">South</text>
<text class="b12" x="15.8" y="318">West</text>
<text class="b12" x="552" y="318">East</text>
<text class="m11" transform="translate(594,71) scale(1.05699,1)">Tot Num of Sources</text>
<text class="m11 g" transform="translate(783.4,71) scale(1.05699,1)">0</text>
<text class="m11" transform="translate(594,85) scale(1.05699,1)">Tot Min Freq, kHz</text>
<text class="m11 g" transform="translate(769.4,85) scale(1.05699,1)">N/A</text>
<text class="m11" transform="translate(594,99) scale(1.05699,1)">Tot Max Freq, kHz</text>
<text class="m11 g" transform="translate(769.4,99) scale(1.05699,1)">N/A</text>
<text class="m11" transform="translate(594,113) scale(1.05699,1)">Tot Min Range, km</text>
<text class="m11 g" transform="translate(769.4,113) scale(1.05699,1)">N/A</text>
<text class="m11" transform="translate(594,127) scale(1.05699,1)">Tot Max Range, km</text>
<text class="m11 g" transform="translate(769.4,127) scale(1.05699,1)">N/A</text>
<text class="m11" transform="translate(594,141) scale(1.05699,1)">Tot Max Amp, dB</text>
<text class="m11 g" transform="translate(769.4,141) scale(1.05699,1)">N/A</text>
<text class="m11" transform="translate(594,155) scale(1.05699,1)">Tot Max SNR Amp, dB</text>
<text class="m11 g" transform="translate(769.4,155) scale(1.05699,1)">N/A</text>
<text class="m11" transform="translate(594,169) scale(1.05699,1)">Tot Min SNR Amp, dB</text>
<text class="m11 g" transform="translate(769.4,169) scale(1.05699,1)">N/A</text>
<text class="m11" transform="translate(594,183) scale(1.05699,1)">Tot Avg SNR Amp, dB</text>
<text class="m11 g" transform="translate(769.4,183) scale(1.05699,1)">N/A</text>
<text class="m11" transform="translate(594,197) scale(1.05699,1)">Tot Max RMS Err, deg</text>
<text class="m11 g" transform="translate(769.4,197) scale(1.05699,1)">N/A</text>
<text class="m11" transform="translate(594,211) scale(1.05699,1)">Tot Min RMS Err, deg</text>
<text class="m11 g" transform="translate(769.4,211) scale(1.05699,1)">N/A</text>
<text class="m11" transform="translate(594,225) scale(1.05699,1)">Tot Avg RMS Err, deg</text>
<text class="m11 g" transform="translate(769.4,225) scale(1.05699,1)">N/A</text>
<text class="m11" transform="translate(594,239) scale(1.05699,1)">Doppler Res, Hz</text>
<text class="m11" transform="translate(748.4,239) scale(1.05699,1)">0.0488</text>
<text class="m11" transform="translate(594,253) scale(1.05699,1)">CIT, sec</text>
<text class="m11" transform="translate(755.4,253) scale(1.05699,1)">20.48</text>
<text class="m11" transform="translate(594,267) scale(1.05699,1)">Num of CITs</text>
<text class="m11" transform="translate(783.4,267) scale(1.05699,1)">4</text>
<text class="m11" transform="translate(594,281) scale(1.05699,1)">Polarization</text>
<text class="m11" transform="translate(748.4,281) scale(1.05699,1)">O-mode</text>
<text class="m11" transform="translate(594,295) scale(1.05699,1)">Center of Sources, deg:</text>
<text class="m11" transform="translate(594,309) scale(1.05699,1)">Tot</text>
<text class="m11" transform="translate(594,323) scale(1.05699,1)">Tot</text>
<text class="m11" transform="translate(692,309) scale(1.05699,1)">Zenith</text>
<text class="m11 g" transform="translate(769.4,309) scale(1.05699,1)">N/A</text>
<text class="m11" transform="translate(692,323) scale(1.05699,1)">Azimuth</text>
<text class="m11" transform="translate(748,322.4) scale(1.05699,1)" fill="#111">↶</text>
<text class="m11 g" transform="translate(769.4,323) scale(1.05699,1)">N/A</text>
<rect x="593" y="341" width="15" height="242" fill="url(#cb)"/>
<rect x="608" y="341" width="1" height="242" fill="#000"/>
<rect x="609" y="341" width="6" height="1" fill="#000"/>
<rect x="609" y="345" width="6" height="1" fill="#000"/>
<rect x="609" y="349" width="3" height="1" fill="#000"/>
<rect x="609" y="353" width="3" height="1" fill="#000"/>
<rect x="609" y="357" width="3" height="1" fill="#000"/>
<rect x="609" y="361" width="3" height="1" fill="#000"/>
<rect x="609" y="365" width="6" height="1" fill="#000"/>
<rect x="609" y="369" width="3" height="1" fill="#000"/>
<rect x="609" y="372" width="3" height="1" fill="#000"/>
<rect x="609" y="376" width="3" height="1" fill="#000"/>
<rect x="609" y="380" width="3" height="1" fill="#000"/>
<rect x="609" y="384" width="6" height="1" fill="#000"/>
<rect x="609" y="388" width="3" height="1" fill="#000"/>
<rect x="609" y="392" width="3" height="1" fill="#000"/>
<rect x="609" y="396" width="3" height="1" fill="#000"/>
<rect x="609" y="400" width="3" height="1" fill="#000"/>
<rect x="609" y="403" width="6" height="1" fill="#000"/>
<rect x="609" y="407" width="3" height="1" fill="#000"/>
<rect x="609" y="411" width="3" height="1" fill="#000"/>
<rect x="609" y="415" width="3" height="1" fill="#000"/>
<rect x="609" y="419" width="3" height="1" fill="#000"/>
<rect x="609" y="423" width="6" height="1" fill="#000"/>
<rect x="609" y="427" width="3" height="1" fill="#000"/>
<rect x="609" y="431" width="3" height="1" fill="#000"/>
<rect x="609" y="434" width="3" height="1" fill="#000"/>
<rect x="609" y="438" width="3" height="1" fill="#000"/>
<rect x="609" y="442" width="6" height="1" fill="#000"/>
<rect x="609" y="446" width="3" height="1" fill="#000"/>
<rect x="609" y="450" width="3" height="1" fill="#000"/>
<rect x="609" y="454" width="3" height="1" fill="#000"/>
<rect x="609" y="458" width="3" height="1" fill="#000"/>
<rect x="609" y="461" width="6" height="1" fill="#000"/>
<rect x="609" y="465" width="3" height="1" fill="#000"/>
<rect x="609" y="469" width="3" height="1" fill="#000"/>
<rect x="609" y="473" width="3" height="1" fill="#000"/>
<rect x="609" y="477" width="3" height="1" fill="#000"/>
<rect x="609" y="481" width="6" height="1" fill="#000"/>
<rect x="609" y="485" width="3" height="1" fill="#000"/>
<rect x="609" y="489" width="3" height="1" fill="#000"/>
<rect x="609" y="492" width="3" height="1" fill="#000"/>
<rect x="609" y="496" width="3" height="1" fill="#000"/>
<rect x="609" y="500" width="6" height="1" fill="#000"/>
<rect x="609" y="504" width="3" height="1" fill="#000"/>
<rect x="609" y="508" width="3" height="1" fill="#000"/>
<rect x="609" y="512" width="3" height="1" fill="#000"/>
<rect x="609" y="516" width="3" height="1" fill="#000"/>
<rect x="609" y="520" width="6" height="1" fill="#000"/>
<rect x="609" y="523" width="3" height="1" fill="#000"/>
<rect x="609" y="527" width="3" height="1" fill="#000"/>
<rect x="609" y="531" width="3" height="1" fill="#000"/>
<rect x="609" y="535" width="3" height="1" fill="#000"/>
<rect x="609" y="539" width="6" height="1" fill="#000"/>
<rect x="609" y="543" width="3" height="1" fill="#000"/>
<rect x="609" y="547" width="3" height="1" fill="#000"/>
<rect x="609" y="551" width="3" height="1" fill="#000"/>
<rect x="609" y="554" width="3" height="1" fill="#000"/>
<rect x="609" y="558" width="6" height="1" fill="#000"/>
<rect x="609" y="562" width="3" height="1" fill="#000"/>
<rect x="609" y="566" width="3" height="1" fill="#000"/>
<rect x="609" y="570" width="3" height="1" fill="#000"/>
<rect x="609" y="574" width="3" height="1" fill="#000"/>
<rect x="609" y="578" width="6" height="1" fill="#000"/>
<rect x="609" y="582" width="6" height="1" fill="#000"/>
<text class="sb" x="617.6" y="345">3.1</text>
<text class="sb" x="617.6" y="369">2.5</text>
<text class="sb" x="617.6" y="388">2.0</text>
<text class="sb" x="617.6" y="407">1.5</text>
<text class="sb" x="617.6" y="427">1.0</text>
<text class="sb" x="617.6" y="446">0.5</text>
<text class="sb" x="617.6" y="465">0</text>
<text class="sb" x="617.6" y="485">-0.5</text>
<text class="sb" x="617.6" y="504">-1.0</text>
<text class="sb" x="617.6" y="524">-1.5</text>
<text class="sb" x="617.6" y="543">-2.0</text>
<text class="sb" x="617.6" y="562">-2.5</text>
<text class="sb" x="617.6" y="586">-3.1</text>
<text class="sb10" transform="translate(657.4,492.4) rotate(-90) scale(0.835,1)" stroke="#000" stroke-width="0.25">Doppler, Hz</text>
<rect x="669" y="402" width="8" height="1" fill="#0000e6"/><rect x="672" y="399" width="1" height="7" fill="#0000e6"/>
<text class="sb10" x="682" y="406" fill="#0000e6">Positive</text>
<circle cx="673" cy="523" r="2.6" fill="none" stroke="#e60000" stroke-width="1.1"/>
<text class="sb10" x="682" y="526" fill="#e60000">Negative</text>
<text class="ss" x="654.2" y="593">ShowSkymap v 1.0</text>
<text class="ss" x="753.2" y="593">SD v 5.1</text>
<text class="m12 i" x="12" y="572">V</text>
<text class="m10" x="19.2" y="576">h</text>
<text class="m11" transform="translate(32.4,572) scale(1.05699,1)">=</text>
<text class="m12 i" x="53" y="572">?</text>
<text class="m12" x="67" y="572">±</text>
<text class="m12 i" x="88" y="572">?</text>
<text class="m11" transform="translate(102.6,572) scale(1.05699,1)">m/s</text>
<text class="m12 i" x="467" y="572">V</text>
<text class="m9" x="474.5" y="576">z</text>
<text class="m11" transform="translate(487.4,572) scale(1.05699,1)">=</text>
<text class="m12 i" x="508" y="572">?</text>
<text class="m12" x="522" y="572">±</text>
<text class="m12 i" x="543" y="572">?</text>
<text class="m11" transform="translate(557.6,572) scale(1.05699,1)">m/s</text>
<text class="m11 i" transform="translate(12,592) scale(1.05699,1)">Geographic coordinates</text>
<text class="m11 i" transform="translate(419,592) scale(1.05699,1)">Zenith: max 40°</text>
<text class="m11 i" transform="translate(534,592) scale(1.05699,1)">step 5°</text>
</svg>
</body></html>
